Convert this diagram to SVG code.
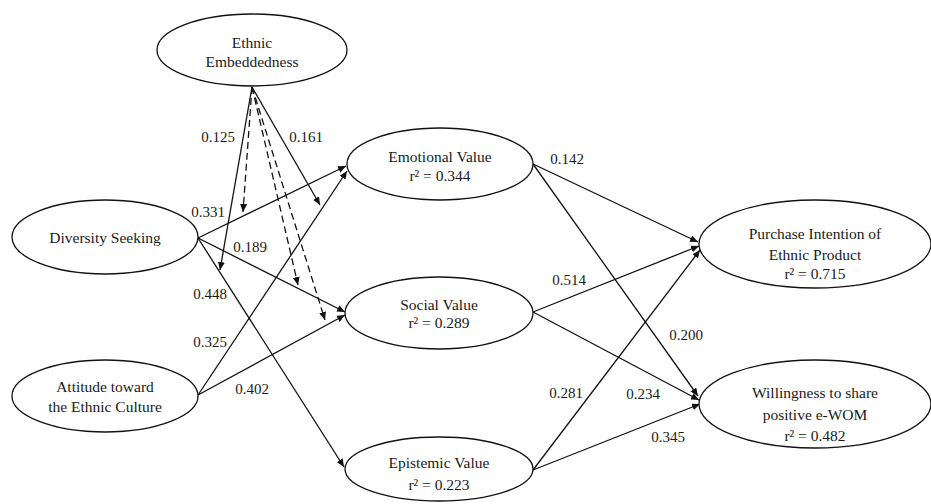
<svg xmlns="http://www.w3.org/2000/svg" width="931" height="504" viewBox="0 0 931 504">
<defs>
<marker id="ah" markerUnits="userSpaceOnUse" markerWidth="9" markerHeight="7" refX="8" refY="3.5" orient="auto">
<path d="M0,0 L8,3.5 L0,7 Z" fill="#111"/>
</marker>
</defs>
<style>
.node ellipse{fill:#fff;stroke:#111;stroke-width:1.3}
.node text{font-family:"Liberation Serif","Times New Roman",serif;font-size:15.5px;fill:#1a1a1a;text-anchor:middle}
.lbl{font-family:"Liberation Serif","Times New Roman",serif;font-size:15px;fill:#1a1a1a;text-anchor:middle}
.c line{stroke:#111;stroke-width:1.3;fill:none;marker-end:url(#ah)}
.c line.d{stroke-dasharray:7,4}
</style>
<rect width="931" height="504" fill="#fff"/>
<g id="connectors" class="c">
<line x1="198" y1="238" x2="346" y2="166"/>
<line x1="198" y1="238" x2="345" y2="312"/>
<line x1="198" y1="238" x2="344" y2="467"/>
<line x1="198" y1="395" x2="347" y2="171"/>
<line x1="198" y1="395" x2="345" y2="315"/>
<line x1="533" y1="164" x2="698" y2="242"/>
<line x1="533" y1="164" x2="698" y2="396"/>
<line x1="533" y1="312" x2="699" y2="246"/>
<line x1="533" y1="312" x2="699" y2="400"/>
<line x1="533" y1="470" x2="700" y2="250"/>
<line x1="533" y1="470" x2="700" y2="404"/>
<line x1="252" y1="87" x2="220" y2="270"/>
<line class="d" x1="252" y1="87" x2="243" y2="212"/>
<line class="d" x1="252" y1="87" x2="298" y2="285"/>
<line class="d" x1="252" y1="87" x2="325" y2="320"/>
<line x1="252" y1="87" x2="320" y2="205"/>
</g>
<g id="labels">
<text class="lbl" x="218" y="142">0.125</text>
<text class="lbl" x="306" y="142">0.161</text>
<text class="lbl" x="208" y="217">0.331</text>
<text class="lbl" x="250" y="252">0.189</text>
<text class="lbl" x="210" y="299">0.448</text>
<text class="lbl" x="210" y="347">0.325</text>
<text class="lbl" x="252" y="394">0.402</text>
<text class="lbl" x="567" y="164">0.142</text>
<text class="lbl" x="569" y="285">0.514</text>
<text class="lbl" x="686" y="340">0.200</text>
<text class="lbl" x="643" y="399">0.234</text>
<text class="lbl" x="566" y="398">0.281</text>
<text class="lbl" x="668" y="442">0.345</text>
</g>
<g id="ethnic-embeddedness" class="node">
<ellipse cx="252" cy="50" rx="95" ry="36"/>
<text x="252" y="48">Ethnic</text>
<text x="252" y="67">Embeddedness</text>
</g>
<g id="diversity-seeking" class="node">
<ellipse cx="105" cy="237" rx="93" ry="37"/>
<text x="105" y="243">Diversity Seeking</text>
</g>
<g id="attitude" class="node">
<ellipse cx="105" cy="396" rx="93" ry="36"/>
<text x="105" y="392">Attitude toward</text>
<text x="105" y="412">the Ethnic Culture</text>
</g>
<g id="emotional-value" class="node">
<ellipse cx="440" cy="164" rx="93" ry="36"/>
<text x="440" y="162">Emotional Value</text>
<text x="440" y="181">r² = 0.344</text>
</g>
<g id="social-value" class="node">
<ellipse cx="439" cy="313" rx="94" ry="36"/>
<text x="439" y="310">Social Value</text>
<text x="439" y="328">r² = 0.289</text>
</g>
<g id="epistemic-value" class="node">
<ellipse cx="439" cy="469" rx="94" ry="32"/>
<text x="439" y="468">Epistemic Value</text>
<text x="439" y="490">r² = 0.223</text>
</g>
<g id="purchase-intention" class="node">
<ellipse cx="815" cy="244" rx="116" ry="44"/>
<text x="815" y="239">Purchase Intention of</text>
<text x="815" y="260">Ethnic Product</text>
<text x="815" y="279">r² = 0.715</text>
</g>
<g id="willingness" class="node">
<ellipse cx="815" cy="404" rx="116" ry="44"/>
<text x="815" y="398">Willingness to share</text>
<text x="815" y="420">positive e-WOM</text>
<text x="815" y="441">r² = 0.482</text>
</g>
</svg>
